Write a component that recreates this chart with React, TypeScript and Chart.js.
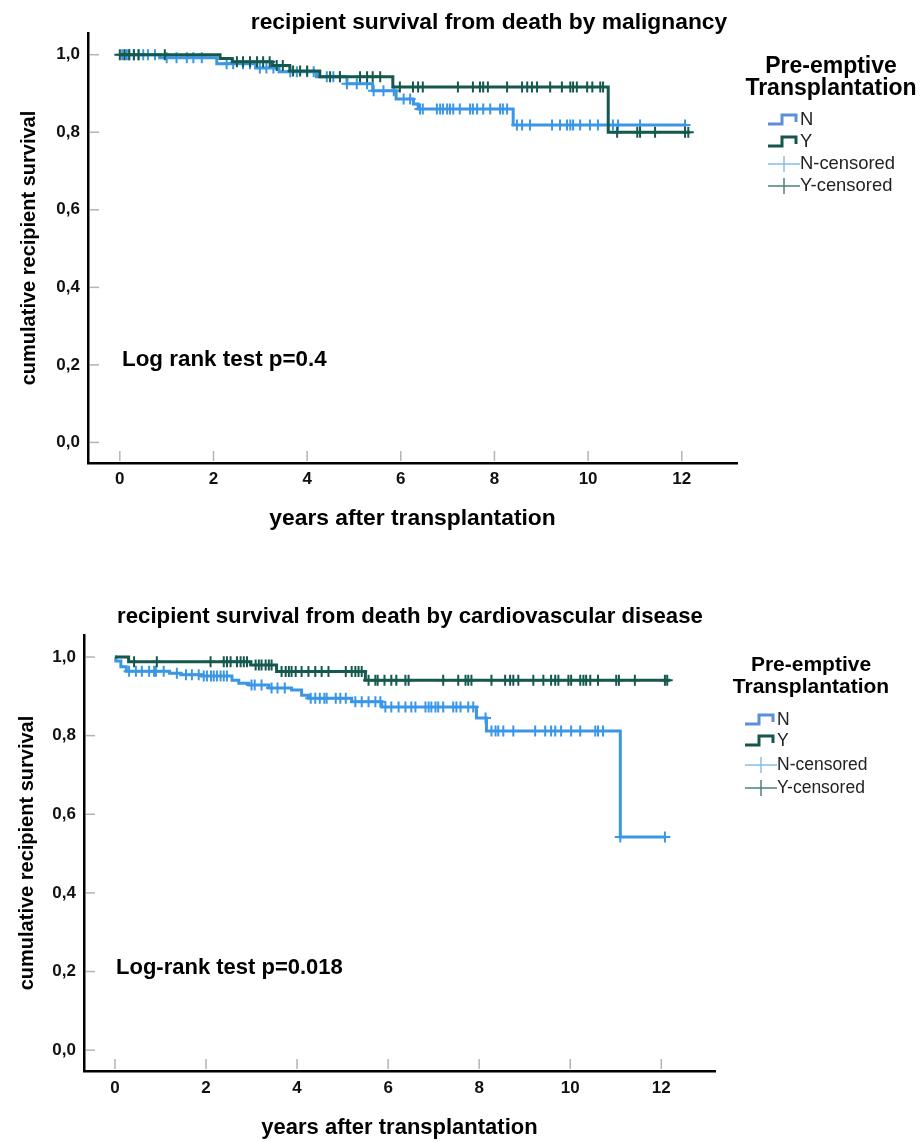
import React, { useEffect, useRef } from "react";
import { Chart, registerables } from "chart.js";

Chart.register(...registerables);

const FONT = "'Liberation Sans', Arial, sans-serif";
const N_COLOR = "#3b97e6";
const Y_COLOR = "#15594e";

const X_TICKS = [0, 2, 4, 6, 8, 10, 12];
const Y_TICKS = [0, 0.2, 0.4, 0.6, 0.8, 1.0];
const LEGEND_TITLE = ["Pre-emptive", "Transplantation"];
const LEGEND_LABELS = ["N", "Y", "N-censored", "Y-censored"];

// ---- malignancy ----
const MAL_N_TIMES = [0, 0.85, 2.07, 2.9, 3.4, 4.2, 4.85, 5.4, 5.9, 6.27, 6.37, 8.4, 12.1];
const MAL_N_SURV = [1, 0.992, 0.977, 0.966, 0.956, 0.943, 0.925, 0.907, 0.886, 0.873, 0.86, 0.819, 0.819];
const MAL_Y_TIMES = [0, 2.14, 2.4, 3.25, 3.63, 4.27, 5.83, 10.43, 12.18];
const MAL_Y_SURV = [1, 0.99, 0.982, 0.972, 0.958, 0.943, 0.917, 0.8, 0.8];
const MAL_N_CENS = [0.05, 0.1, 0.15, 0.2, 0.3, 0.4, 0.5, 0.6, 0.75, 1.0, 1.21, 1.43, 1.57, 1.75, 2.28, 2.42, 2.63, 2.78, 2.99, 3.13, 3.28, 3.64, 3.78, 4.0, 4.14, 4.42, 4.56, 4.7, 4.85, 5.06, 5.28, 5.42, 5.63, 5.85, 6.06, 6.2, 6.41, 6.47, 6.77, 6.84, 6.9, 6.99, 7.05, 7.12, 7.26, 7.48, 7.54, 7.63, 7.76, 7.91, 8.12, 8.18, 8.27, 8.48, 8.59, 8.76, 9.23, 9.4, 9.55, 9.62, 9.68, 9.83, 10.04, 10.21, 10.53, 10.64, 11.11, 12.07];
const MAL_Y_CENS = [0.0, 0.1, 0.2, 0.3, 0.4, 0.96, 2.5, 2.63, 2.78, 2.93, 3.06, 3.2, 3.35, 3.48, 3.7, 3.85, 4.0, 4.49, 4.7, 5.13, 5.28, 5.4, 5.56, 5.98, 6.26, 6.37, 6.47, 7.22, 7.54, 7.69, 7.76, 7.86, 8.27, 8.59, 8.7, 8.8, 8.91, 9.19, 9.44, 9.62, 9.68, 9.76, 9.98, 10.09, 10.26, 10.32, 10.62, 11.05, 11.11, 11.43, 12.07, 12.14];

// ---- cardiovascular ----
const CV_N_TIMES = [0, 0.02, 0.13, 0.25, 1.2, 1.45, 1.9, 2.57, 2.72, 2.94, 3.38, 3.88, 4.1, 4.25, 5.2, 5.86, 7.94, 8.16, 11.1, 12.08];
const CV_N_SURV = [1, 0.99, 0.975, 0.964, 0.959, 0.955, 0.952, 0.941, 0.933, 0.929, 0.921, 0.916, 0.903, 0.895, 0.886, 0.873, 0.845, 0.812, 0.542, 0.542];
const CV_Y_TIMES = [0, 0.3, 2.98, 3.55, 5.5, 12.2];
const CV_Y_SURV = [1, 0.988, 0.98, 0.963, 0.941, 0.941];
const CV_N_CENS = [0.31, 0.46, 0.59, 0.75, 0.86, 0.9, 1.07, 1.36, 1.56, 1.69, 1.84, 1.95, 2.02, 2.11, 2.17, 2.24, 2.32, 2.39, 2.46, 3.0, 3.07, 3.22, 3.44, 3.57, 3.73, 4.3, 4.4, 4.5, 4.6, 4.65, 4.85, 4.95, 5.07, 5.28, 5.42, 5.57, 5.72, 5.83, 5.94, 6.07, 6.23, 6.38, 6.51, 6.6, 6.82, 6.89, 6.95, 7.04, 7.1, 7.21, 7.43, 7.5, 7.59, 7.76, 7.87, 8.14, 8.27, 8.36, 8.42, 8.53, 8.75, 9.23, 9.45, 9.58, 9.67, 9.8, 10.02, 10.22, 10.55, 10.61, 10.72, 11.1, 12.08];
const CV_Y_CENS = [0.42, 0.92, 2.1, 2.39, 2.46, 2.54, 2.68, 2.76, 2.83, 2.9, 3.09, 3.16, 3.22, 3.31, 3.38, 3.44, 3.66, 3.75, 3.82, 3.88, 3.97, 4.1, 4.25, 4.4, 4.54, 4.69, 5.07, 5.2, 5.28, 5.35, 5.42, 5.57, 5.72, 5.77, 5.92, 6.07, 6.18, 6.38, 6.45, 7.21, 7.54, 7.7, 7.76, 7.83, 8.27, 8.57, 8.68, 8.75, 8.86, 9.19, 9.41, 9.58, 9.67, 9.74, 9.96, 10.02, 10.22, 10.29, 10.35, 10.44, 10.61, 11.01, 11.07, 11.42, 12.08, 12.13];

function survAt(times: number[], surv: number[], t: number) {
  let s = surv[0];
  for (let i = 0; i < times.length; i++) if (times[i] <= t + 1e-9) s = surv[i];
  return s;
}

type Panel = {
  title: string;
  note: string;
  nT: number[]; nS: number[]; yT: number[]; yS: number[]; nC: number[]; yC: number[];
  height: number;
  area: { left: number; right: number; top: number; bottom: number };
  titlePos: [number, number];
  titleFont: number;
  notePos: [number, number];
  noteFont: number;
  xTitleFont: number;
  xTitlePad: number;
  yTitlePad: number;
  xTickPad: number;
  legendX: number;
  legendTitleY: [number, number];
  legendItemsY: number[];
  legendIconX: number;
  legendFont: number;
  legendTitleFont: number;
};

const PANELS: Panel[] = [
  {
    title: "recipient survival from death by malignancy",
    note: "Log rank test p=0.4",
    nT: MAL_N_TIMES, nS: MAL_N_SURV, yT: MAL_Y_TIMES, yS: MAL_Y_SURV, nC: MAL_N_CENS, yC: MAL_Y_CENS,
    height: 560,
    area: { left: 88, right: 737, top: 33, bottom: 463 },
    titlePos: [489, 23],
    titleFont: 22.8,
    notePos: [122, 360],
    noteFont: 22.4,
    xTitleFont: 22.8,
    xTitlePad: 28,
    yTitlePad: 17,
    xTickPad: 6,
    legendX: 831,
    legendTitleY: [67, 89],
    legendItemsY: [120, 142, 164, 186],
    legendIconX: 768,
    legendFont: 18.4,
    legendTitleFont: 23,
  },
  {
    title: "recipient survival from death by cardiovascular disease",
    note: "Log-rank test p=0.018",
    nT: CV_N_TIMES, nS: CV_N_SURV, yT: CV_Y_TIMES, yS: CV_Y_SURV, nC: CV_N_CENS, yC: CV_Y_CENS,
    height: 582,
    area: { left: 84, right: 715, top: 75, bottom: 511 },
    titlePos: [410, 57],
    titleFont: 22.2,
    notePos: [116, 408],
    noteFont: 22,
    xTitleFont: 22,
    xTitlePad: 1,
    yTitlePad: 15,
    xTickPad: 7,
    legendX: 811,
    legendTitleY: [105, 127],
    legendItemsY: [160, 181, 205, 228],
    legendIconX: 745,
    legendFont: 17.5,
    legendTitleFont: 21,
  },
];

const decorPlugin = {
  id: "decor",
  afterDraw(chart: any, _args: any, opts: any) {
    const p: Panel = opts.panel;
    const ctx = chart.ctx;
    const xs = chart.scales.x;
    const ys = chart.scales.y;
    const a = chart.chartArea;
    ctx.save();
    // inner tick marks
    ctx.strokeStyle = "#b4b4b4";
    ctx.lineWidth = 1.5;
    X_TICKS.forEach((v) => {
      const px = xs.getPixelForValue(v);
      ctx.beginPath();
      ctx.moveTo(px, a.bottom - 2);
      ctx.lineTo(px, a.bottom - 12);
      ctx.stroke();
    });
    Y_TICKS.forEach((v) => {
      const py = ys.getPixelForValue(v);
      ctx.beginPath();
      ctx.moveTo(a.left + 2, py);
      ctx.lineTo(a.left + 11, py);
      ctx.stroke();
    });
    // title
    ctx.fillStyle = "#000";
    ctx.textBaseline = "middle";
    ctx.textAlign = "center";
    ctx.font = `bold ${p.titleFont}px ${FONT}`;
    ctx.fillText(p.title, p.titlePos[0], p.titlePos[1]);
    // note
    ctx.textAlign = "left";
    ctx.font = `bold ${p.noteFont}px ${FONT}`;
    ctx.fillText(p.note, p.notePos[0], p.notePos[1]);
    // legend title
    ctx.textAlign = "center";
    ctx.font = `bold ${p.legendTitleFont}px ${FONT}`;
    LEGEND_TITLE.forEach((t, i) => ctx.fillText(t, p.legendX, p.legendTitleY[i]));
    // legend items
    const ix = p.legendIconX;
    const iconColors = ["#5b8fd8", "#15574c", "#86bfea", "#4b8279"];
    LEGEND_LABELS.forEach((lab, i) => {
      const cy = p.legendItemsY[i];
      ctx.strokeStyle = iconColors[i];
      if (i < 2) {
        ctx.lineWidth = 3;
        ctx.beginPath();
        ctx.moveTo(ix, cy + 4);
        ctx.lineTo(ix + 14, cy + 4);
        ctx.lineTo(ix + 14, cy - 5);
        ctx.lineTo(ix + 28, cy - 5);
        ctx.lineTo(ix + 28, cy + 2);
        ctx.stroke();
      } else {
        ctx.lineWidth = 1.5;
        ctx.beginPath();
        ctx.moveTo(ix, cy);
        ctx.lineTo(ix + 32, cy);
        ctx.moveTo(ix + 16, cy - 8);
        ctx.lineTo(ix + 16, cy + 8);
        ctx.stroke();
      }
      ctx.fillStyle = "#222";
      ctx.textAlign = "left";
      ctx.font = `${p.legendFont}px ${FONT}`;
      ctx.fillText(lab, ix + 32, cy);
    });
    ctx.restore();
  },
};

function buildConfig(p: Panel): any {
  const W = 922;
  const line = (T: number[], S: number[], color: string, label: string) => ({
    type: "line",
    label,
    data: T.map((t, i) => ({ x: t, y: S[i] })),
    stepped: true,
    borderColor: color,
    borderWidth: 3,
    pointRadius: 0,
    fill: false,
  });
  const cens = (C: number[], T: number[], S: number[], color: string, label: string) => ({
    type: "scatter",
    label,
    data: C.map((t) => ({ x: t, y: survAt(T, S, t) })),
    pointStyle: "cross",
    pointRadius: 5.5,
    borderColor: color,
    backgroundColor: color,
    borderWidth: 2,
    showLine: false,
  });
  return {
    type: "line",
    data: {
      datasets: [
        cens(p.yC, p.yT, p.yS, Y_COLOR, "Y-censored"),
        line(p.yT, p.yS, Y_COLOR, "Y"),
        cens(p.nC, p.nT, p.nS, N_COLOR, "N-censored"),
        line(p.nT, p.nS, N_COLOR, "N"),
      ],
    },
    plugins: [decorPlugin],
    options: {
      animation: false,
      responsive: false,
      devicePixelRatio: 1,
      layout: { padding: { left: 0, top: p.area.top, right: W - p.area.right, bottom: 0 } },
      plugins: {
        legend: { display: false },
        tooltip: { enabled: false },
        title: { display: false },
        decor: { panel: p },
      },
      scales: {
        x: {
          type: "linear",
          min: -0.68,
          max: 13.18,
          afterFit: (s: any) => { s.height = p.height - p.area.bottom; },
          afterBuildTicks: (s: any) => { s.ticks = X_TICKS.map((v) => ({ value: v })); },
          grid: { display: false, drawTicks: false },
          border: { display: true, color: "#000", width: 2.5 },
          ticks: { padding: p.xTickPad, color: "#111", font: { family: FONT, size: 17, weight: "bold" }, callback: (v: any) => String(v) },
          title: { display: true, text: "years after transplantation", color: "#000", font: { family: FONT, size: p.xTitleFont, weight: "bold" }, padding: { top: 0, bottom: p.xTitlePad } },
        },
        y: {
          type: "linear",
          min: -0.053,
          max: 1.056,
          afterFit: (s: any) => { s.width = p.area.left; },
          afterBuildTicks: (s: any) => { s.ticks = Y_TICKS.map((v) => ({ value: v })); },
          grid: { display: false, drawTicks: false },
          border: { display: true, color: "#000", width: 2.5 },
          ticks: { padding: 8, color: "#111", font: { family: FONT, size: 17, weight: "bold" }, callback: (v: any) => Number(v).toFixed(1).replace(".", ",") },
          title: { display: true, text: "cumulative recipient survival", color: "#000", font: { family: FONT, size: 20, weight: "bold" }, padding: { top: p.yTitlePad, bottom: 0 } },
        },
      },
    },
  };
}

function ChartPanel({ panel, top }: { panel: Panel; top: number }) {
  const ref = useRef<HTMLCanvasElement | null>(null);
  useEffect(() => {
    if (!ref.current) return;
    const chart = new Chart(ref.current, buildConfig(panel));
    return () => chart.destroy();
  }, [panel]);
  return (
    <div style={{ position: "absolute", left: 0, top, width: 922, height: panel.height }}>
      <canvas ref={ref} width={922} height={panel.height} style={{ width: 922, height: panel.height, display: "block" }} />
    </div>
  );
}

export default function App() {
  return (
    <div style={{ position: "absolute", left: 0, top: 0, width: 922, height: 1142, background: "#fff", overflow: "hidden" }}>
      <ChartPanel panel={PANELS[0]} top={0} />
      <ChartPanel panel={PANELS[1]} top={560} />
    </div>
  );
}
